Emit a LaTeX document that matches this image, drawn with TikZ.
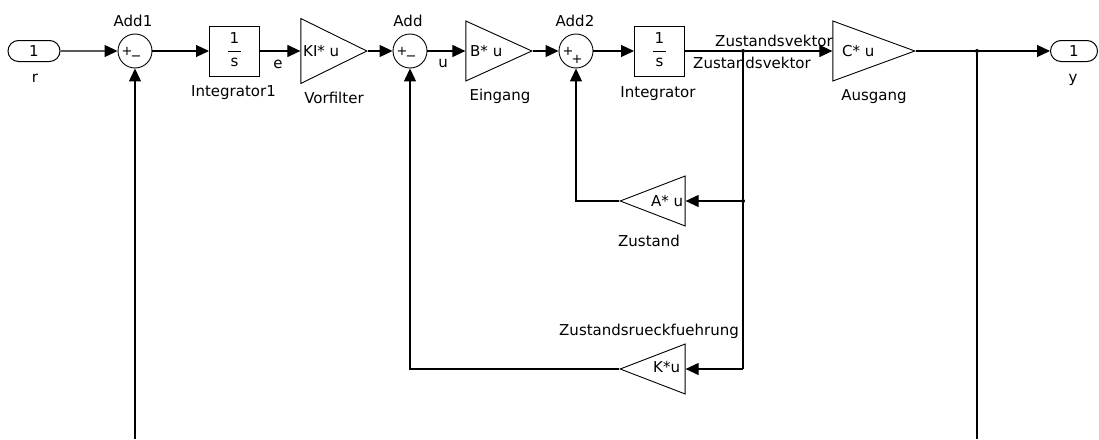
\documentclass[tikz,border=0pt]{standalone}
\usepackage{fontspec}
\setmainfont{DejaVu Sans}
\usetikzlibrary{arrows.meta,shapes.geometric,shapes.misc}
\tikzset{
  sig/.style={line width=1.2pt, -{Triangle[length=13pt,width=12pt]}},
  wire/.style={line width=1.2pt},
  summe/.style={circle, draw, line width=0.9pt, minimum size=34pt, inner sep=0pt},
  integ/.style={rectangle, draw, line width=1pt, minimum width=50pt, minimum height=50pt, inner sep=0pt},
  port/.style={rounded rectangle, draw, line width=1pt, minimum height=21pt, inner sep=0pt, font=\fontsize{15}{17}\selectfont},
  gainr/.style={isosceles triangle, isosceles triangle stretches, draw, line width=0.9pt, inner sep=0pt},
  gainl/.style={gainr, shape border rotate=180},
  lbl/.style={font=\fontsize{15}{17}\selectfont, anchor=base, inner sep=0pt},
  btxt/.style={lbl, anchor=base west},
  sgn/.style={font=\fontsize{13}{15}\selectfont, inner sep=0pt},
  dot/.style={circle, fill, inner sep=0pt, minimum size=4pt}
}
\begin{document}
\begin{tikzpicture}[x=1pt, y=-1pt]
  \useasboundingbox (0,0) rectangle (1099,439);
  % Inport r
  \node[port, minimum width=52pt] (r) at (34,51) {1};
  \node[lbl] (rlbl) at (35,82) {r};
  % Add1
  \node[summe] (add1) at (135,51) {};
  \node[lbl] (add1lbl) at (133,27) {Add1};
  \node[sgn] (add1p) at (127,51) {+};
  \node[sgn] (add1m) at (136,58) {−};
  % Integrator1
  \node[integ] (int1) at (234.5,51) {};
  \node[lbl] (int1z) at (234.5,43) {1};
  \node[lbl] (int1n) at (234.5,66) {s};
  \draw[line width=0.8pt] (228,51) -- (241,51);
  \node[lbl] (int1lbl) at (233.5,96) {Integrator1};
  % Vorfilter
  \node[gainr, minimum width=65pt, minimum height=66pt, anchor=apex] (vor) at (368,51) {};
  \node[btxt] (vortxt) at (303,56) {KI* u};
  \node[lbl] (vorlbl) at (334,103) {Vorfilter};
  % Add
  \node[summe] (add) at (410,51) {};
  \node[lbl] (addlbl) at (408,27) {Add};
  \node[sgn] (addp) at (402,51) {+};
  \node[sgn] (addm) at (411,58) {−};
  % Eingang
  \node[gainr, minimum width=60pt, minimum height=66pt, anchor=apex] (ein) at (533,51) {};
  \node[btxt] (eintxt) at (470,56) {B* u};
  \node[lbl] (einlbl) at (500,100) {Eingang};
  % Add2
  \node[summe] (add2) at (576,51) {};
  \node[lbl] (add2lbl) at (575,27) {Add2};
  \node[sgn] (add2p) at (568,51) {+};
  \node[sgn] (add2q) at (577,59) {+};
  % Integrator
  \node[integ] (int2) at (659.5,51) {};
  \node[lbl] (int2z) at (659.5,43) {1};
  \node[lbl] (int2n) at (659.5,66) {s};
  \draw[line width=0.8pt] (653,51) -- (666,51);
  \node[lbl] (int2lbl) at (658,97) {Integrator};
  % Ausgang
  \node[gainr, minimum width=60pt, minimum height=82pt, anchor=apex] (aus) at (916,51) {};
  \node[btxt] (austxt) at (842,56) {C* u};
  \node[lbl] (auslbl) at (874,100) {Ausgang};
  % Outport y
  \node[port, minimum width=47pt] (y) at (1074,51) {1};
  \node[lbl] (ylbl) at (1073,82) {y};
  % Zustand
  \node[gainl, minimum width=50pt, minimum height=65pt, anchor=apex] (zus) at (619,201) {};
  \node[btxt] (zustxt) at (651,206) {A* u};
  \node[lbl] (zuslbl) at (649,246) {Zustand};
  % Zustandsrueckfuehrung
  \node[gainl, minimum width=50pt, minimum height=65pt, anchor=apex] (kfb) at (619,369) {};
  \node[btxt] (kfbtxt) at (653,372) {K*u};
  \node[lbl] (kfblbl) at (649,335) {Zustandsrueckfuehrung};
  % Verzweigungen
  \node[dot] (j1) at (743,51) {};
  \node[dot] (j2) at (977,51) {};
  \node[dot] (j3) at (743,201) {};
  \coordinate (j4) at (743,369);
  \coordinate (b1) at (135,439);
  \coordinate (b2) at (977,439);
  % Signale
  \draw[sig] (r) -- (add1);
  \draw[sig] (add1) -- (int1);
  \draw[sig] (int1) -- (vor.lower side);
  \node[lbl] (elbl) at (278,68) {e};
  \draw[sig] (vor.apex) -- (add);
  \draw[sig] (add) -- (ein.lower side);
  \node[lbl] (ulbl) at (443,67) {u};
  \draw[sig] (ein.apex) -- (add2);
  \draw[sig] (add2) -- (int2);
  \draw[wire] (int2) -- (j1);
  \draw[sig] (j1) -- (aus.lower side);
  \node[lbl] (zv1) at (774,46) {Zustandsvektor};
  \node[lbl] (zv2) at (752,68) {Zustandsvektor};
  \draw[sig] (aus.apex) -- (y);
  % Rueckfuehrungen
  \draw[wire] (j1) -- (j3) -- (j4);
  \draw[sig] (j3) -- (zus.lower side);
  \draw[sig] (zus.apex) -| (add2);
  \draw[sig] (j4) -- (kfb.lower side);
  \draw[sig] (kfb.apex) -| (add);
  \draw[wire] (j2) -- (b2);
  \draw[sig] (b1) -- (add1);
\end{tikzpicture}
\end{document}
